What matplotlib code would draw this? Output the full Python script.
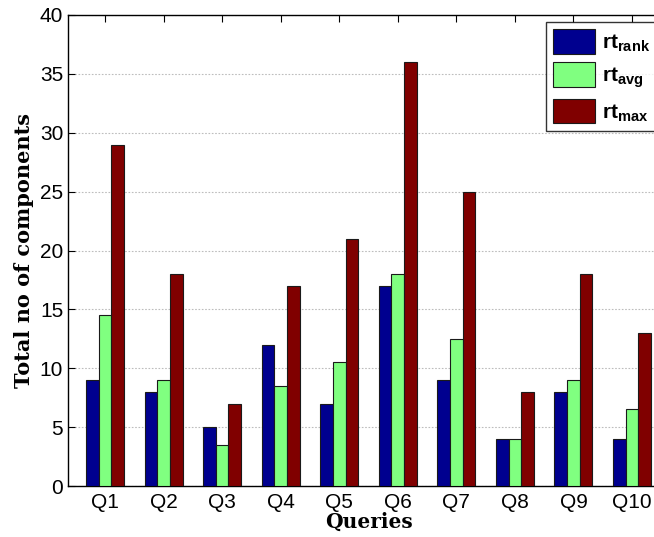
import numpy as np
import matplotlib.pyplot as plt
from matplotlib.patches import Patch

plt.rcParams['font.family'] = ['Liberation Sans', 'DejaVu Sans']
plt.rcParams['mathtext.fontset'] = 'custom'
plt.rcParams['mathtext.bf'] = 'Liberation Sans:bold'
plt.rcParams['mathtext.rm'] = 'Liberation Sans'

queries = ['Q1', 'Q2', 'Q3', 'Q4', 'Q5', 'Q6', 'Q7', 'Q8', 'Q9', 'Q10']
rt_rank = [9, 8, 5, 12, 7, 17, 9, 4, 8, 4]
rt_avg = [14.5, 9, 3.5, 8.5, 10.5, 18, 12.5, 4, 9, 6.5]
rt_max = [29, 18, 7, 17, 21, 36, 25, 8, 18, 13]

series = [rt_rank, rt_avg, rt_max]
colors = ['#00008f', '#80ff80', '#800000']
labels = [r'$\mathbf{rt}_{\mathbf{rank}}$', r'$\mathbf{rt}_{\mathbf{avg}}$',
          r'$\mathbf{rt}_{\mathbf{max}}$']

W, H = 654, 537
fig = plt.figure(figsize=(W / 100, H / 100), dpi=100)
ax = fig.add_axes([68 / W, (H - 486) / H, (669 - 68) / W, (486 - 15) / H])

x = np.arange(1, len(queries) + 1)
bw = 0.217
for k, (vals, c) in enumerate(zip(series, colors)):
    ax.bar(x + (k - 1) * bw, vals, bw, color=c, edgecolor='#1a1a1a',
           linewidth=0.8, zorder=3)

ax.set_xlim(1 - 0.632, 10.632)
ax.set_ylim(0, 40)
ax.set_xticks(x)
ax.set_xticklabels(queries, fontsize=15)
ax.set_yticks(range(0, 41, 5))
ax.tick_params(axis='y', labelsize=15, direction='in', length=5, right=True)
ax.tick_params(axis='x', direction='in', length=5, top=True, pad=5)
ax.yaxis.grid(True, linestyle=(0, (1.5, 1.5)), color='#bdbdbd', linewidth=0.8, zorder=0)
for s in ax.spines.values():
    s.set_linewidth(1.0)

serif = ['DejaVu Serif', 'Liberation Serif']
ax.set_xlabel('Queries', fontsize=14.5, fontweight='bold', family=serif, labelpad=0)
ax.set_ylabel('Total no of components', fontsize=15, fontweight='bold',
              family=serif, labelpad=4)

handles = [Patch(facecolor=c, edgecolor='#1a1a1a', linewidth=0.8) for c in colors]
fig.legend(handles, labels, loc='upper left', bbox_to_anchor=(546 / W, 1 - 22 / H),
           fontsize=15, frameon=True, fancybox=False, edgecolor='black',
           handlelength=2.0, handleheight=1.45, handletextpad=0.35,
           borderpad=0.35, labelspacing=0.4, borderaxespad=0)

fig.savefig('out.png', dpi=100)
